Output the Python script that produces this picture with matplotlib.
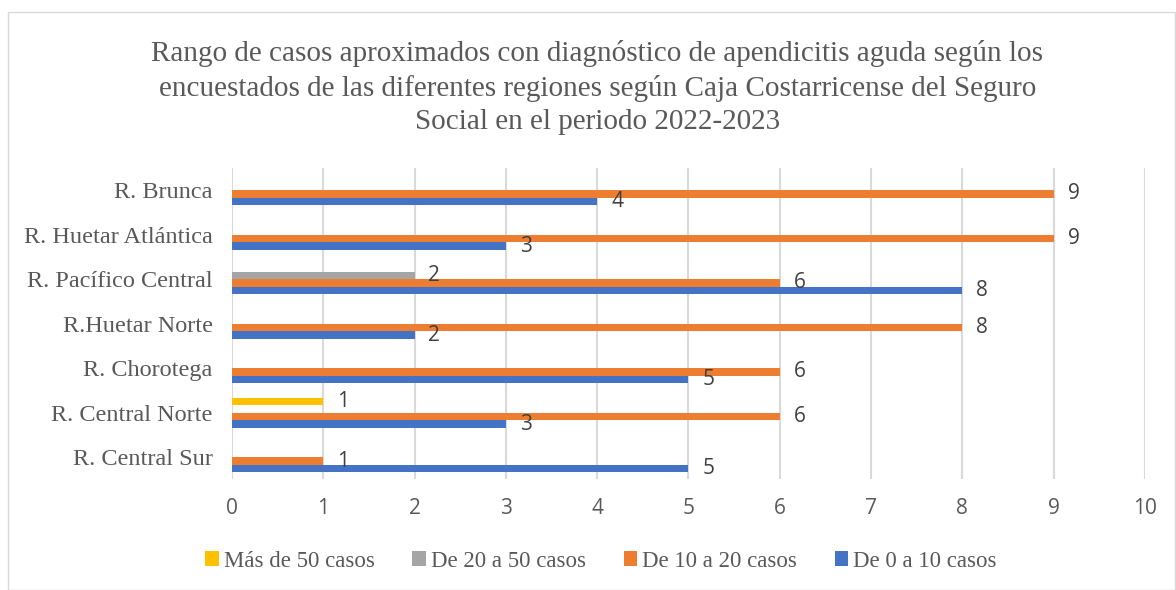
import matplotlib.pyplot as plt
import matplotlib.patches as mpatches
import numpy as np

# datos
regiones = ["R. Central Sur", "R. Central Norte", "R. Chorotega", "R.Huetar Norte",
            "R. Pacífico Central", "R. Huetar Atlántica", "R. Brunca"]
de_0_a_10 = [5, 3, 5, 2, 8, 3, 4]
de_10_a_20 = [1, 6, 6, 8, 6, 9, 9]
de_20_a_50 = [0, 0, 0, 0, 2, 0, 0]
mas_de_50 = [0, 1, 0, 0, 0, 0, 0]

series = [
    ("De 0 a 10 casos", de_0_a_10, "#4472C4"),
    ("De 10 a 20 casos", de_10_a_20, "#ED7D31"),
    ("De 20 a 50 casos", de_20_a_50, "#A5A5A5"),
    ("Más de 50 casos", mas_de_50, "#FFC000"),
]

serif = "Liberation Serif"
sans = "Open Sans"
gris = "#595959"

fig = plt.figure(figsize=(11.76, 5.9), dpi=100)
ax = fig.add_axes([0.1973, 0.1873, 0.7763, 0.528])

y = np.arange(len(regiones))
h = 0.169
offsets = [-1.5 * h, -0.5 * h, 0.5 * h, 1.5 * h]

for (nombre, vals, color), off in zip(series, offsets):
    ax.barh(y + off, vals, height=h, color=color, label=nombre, zorder=3)
    for yi, v in zip(y, vals):
        if v > 0:
            ax.annotate(str(v), (v, yi + off), xytext=(10, 0), textcoords="offset points",
                        va="center", ha="left", fontsize=15, color="#404040",
                        family=sans, zorder=4)

ax.set_xlim(0, 10)
ax.set_ylim(-0.5, len(regiones) - 0.5)
ax.set_xticks(range(0, 11))
ax.set_yticks(y)
ax.set_yticklabels(regiones, family=serif, fontsize=17.5, color=gris)
for lbl in ax.get_xticklabels():
    lbl.set_family(sans)
    lbl.set_fontsize(15)
    lbl.set_color(gris)
ax.tick_params(length=0)
ax.tick_params(axis="x", pad=13)
ax.tick_params(axis="y", pad=14)
ax.xaxis.grid(True, color="#d9d9d9", linewidth=1.5, zorder=0)
for s in ax.spines.values():
    s.set_visible(False)

fig.suptitle("Rango de casos aproximados con diagnóstico de apendicitis aguda según los\n"
             "encuestados de las diferentes regiones según Caja Costarricense del Seguro\n"
             "Social en el periodo 2022-2023",
             x=0.508, y=0.851, va="center", family=serif, fontsize=21, color=gris,
             linespacing=1.37)

handles, labels = ax.get_legend_handles_labels()
fig.legend(handles[::-1], labels[::-1], loc="center", bbox_to_anchor=(0.511, 0.049),
           ncol=4, frameon=False, prop={"family": serif, "size": 16.5},
           labelcolor=gris, handlelength=0.6, handleheight=0.6, handletextpad=0.2,
           columnspacing=1.65)

# marco exterior
fig.patches.append(mpatches.Rectangle((8 / 1176, 0), 1 - 9 / 1176, 1 - 12 / 590,
                                      transform=fig.transFigure, fill=False,
                                      edgecolor="#d9d9d9", linewidth=1))

fig.savefig("out.png", dpi=100)
